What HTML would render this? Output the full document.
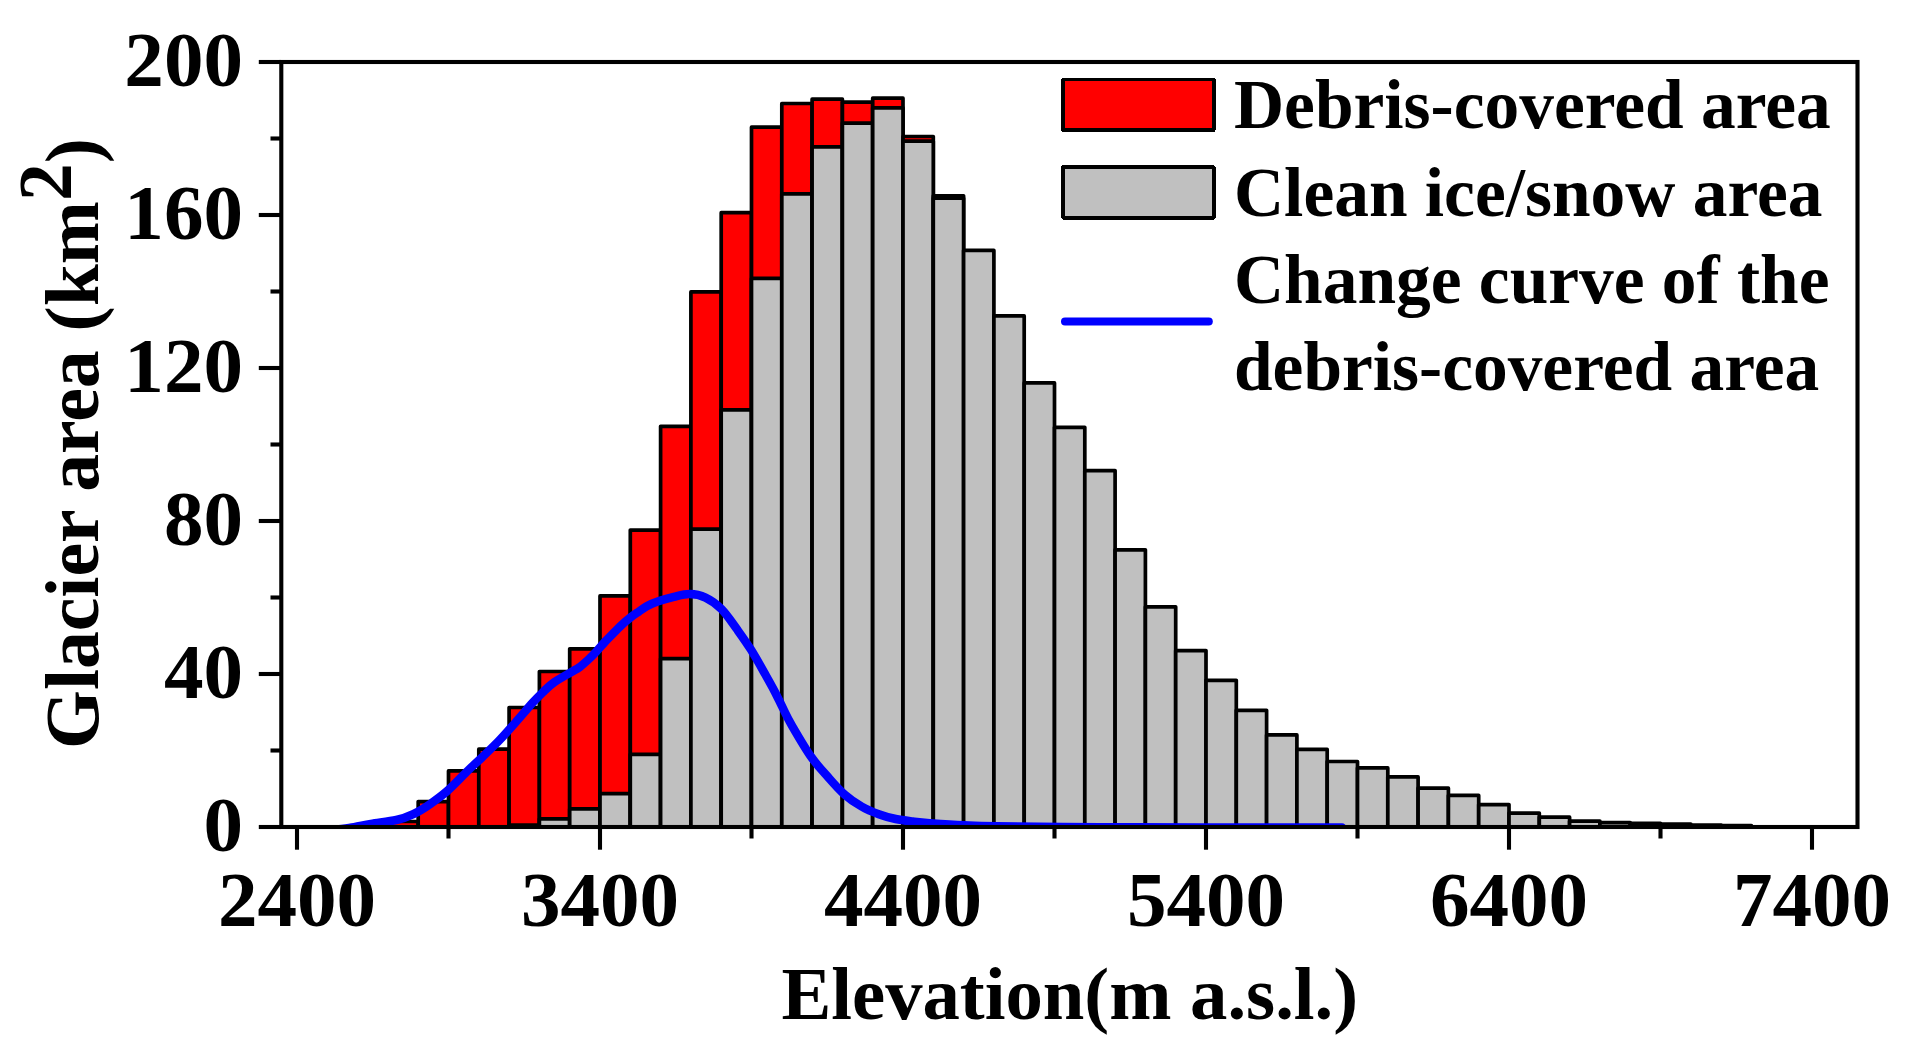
<!DOCTYPE html>
<html><head><meta charset="utf-8"><title>Glacier area by elevation</title>
<style>
html,body{margin:0;padding:0;background:#fff;}
body{width:1910px;height:1061px;overflow:hidden;}
svg{display:block;}
text{font-family:"Liberation Serif","Times New Roman",serif;font-weight:bold;fill:#000;}
.tk{font-size:79.1px;}
.lg{font-size:69.4px;}
</style></head><body>
<svg width="1910" height="1061" viewBox="0 0 1910 1061">
<rect width="1910" height="1061" fill="#fff"/>
<defs><clipPath id="pc"><rect x="281" y="62" width="1577" height="765"/></clipPath></defs>

<g stroke="#000" stroke-width="3.7" stroke-linejoin="round">
<rect x="387.9" y="821.5" width="30.3" height="5.5" fill="#ff0000"/>
<rect x="418.2" y="801.6" width="30.3" height="25.4" fill="#ff0000"/>
<rect x="448.5" y="770.9" width="30.3" height="56.1" fill="#ff0000"/>
<rect x="478.8" y="749.2" width="30.3" height="77.8" fill="#ff0000"/>
<rect x="509.1" y="707.5" width="30.3" height="119.5" fill="#ff0000"/>
<rect x="509.1" y="825.0" width="30.3" height="2.0" fill="#c0c0c0"/>
<rect x="539.4" y="671.5" width="30.3" height="155.5" fill="#ff0000"/>
<rect x="539.4" y="818.9" width="30.3" height="8.1" fill="#c0c0c0"/>
<rect x="569.7" y="648.8" width="30.3" height="178.2" fill="#ff0000"/>
<rect x="569.7" y="808.9" width="30.3" height="18.1" fill="#c0c0c0"/>
<rect x="600.0" y="595.9" width="30.3" height="231.1" fill="#ff0000"/>
<rect x="600.0" y="793.7" width="30.3" height="33.3" fill="#c0c0c0"/>
<rect x="630.3" y="530.1" width="30.3" height="296.9" fill="#ff0000"/>
<rect x="630.3" y="754.3" width="30.3" height="72.7" fill="#c0c0c0"/>
<rect x="660.6" y="426.3" width="30.3" height="400.7" fill="#ff0000"/>
<rect x="660.6" y="658.7" width="30.3" height="168.3" fill="#c0c0c0"/>
<rect x="690.9" y="291.9" width="30.3" height="535.1" fill="#ff0000"/>
<rect x="690.9" y="529.1" width="30.3" height="297.9" fill="#c0c0c0"/>
<rect x="721.2" y="212.7" width="30.3" height="614.3" fill="#ff0000"/>
<rect x="721.2" y="409.8" width="30.3" height="417.2" fill="#c0c0c0"/>
<rect x="751.5" y="127.2" width="30.3" height="699.8" fill="#ff0000"/>
<rect x="751.5" y="278.4" width="30.3" height="548.6" fill="#c0c0c0"/>
<rect x="781.8" y="103.5" width="30.3" height="723.5" fill="#ff0000"/>
<rect x="781.8" y="193.9" width="30.3" height="633.1" fill="#c0c0c0"/>
<rect x="812.1" y="99.2" width="30.3" height="727.8" fill="#ff0000"/>
<rect x="812.1" y="146.8" width="30.3" height="680.2" fill="#c0c0c0"/>
<rect x="842.4" y="102.2" width="30.3" height="724.8" fill="#ff0000"/>
<rect x="842.4" y="123.1" width="30.3" height="703.9" fill="#c0c0c0"/>
<rect x="872.7" y="98.2" width="30.3" height="728.8" fill="#ff0000"/>
<rect x="872.7" y="107.8" width="30.3" height="719.2" fill="#c0c0c0"/>
<rect x="903.0" y="136.5" width="30.3" height="690.5" fill="#ff0000"/>
<rect x="903.0" y="141.2" width="30.3" height="685.8" fill="#c0c0c0"/>
<rect x="933.3" y="195.8" width="30.3" height="631.2" fill="#ff0000"/>
<rect x="933.3" y="198.2" width="30.3" height="628.8" fill="#c0c0c0"/>
<rect x="963.6" y="250.4" width="30.3" height="576.6" fill="#c0c0c0"/>
<rect x="993.9" y="315.9" width="30.3" height="511.1" fill="#c0c0c0"/>
<rect x="1024.2" y="382.9" width="30.3" height="444.1" fill="#c0c0c0"/>
<rect x="1054.5" y="427.3" width="30.3" height="399.7" fill="#c0c0c0"/>
<rect x="1084.8" y="470.6" width="30.3" height="356.4" fill="#c0c0c0"/>
<rect x="1115.1" y="549.8" width="30.3" height="277.2" fill="#c0c0c0"/>
<rect x="1145.4" y="606.8" width="30.3" height="220.2" fill="#c0c0c0"/>
<rect x="1175.7" y="650.6" width="30.3" height="176.4" fill="#c0c0c0"/>
<rect x="1206.0" y="680.3" width="30.3" height="146.7" fill="#c0c0c0"/>
<rect x="1236.3" y="710.3" width="30.3" height="116.7" fill="#c0c0c0"/>
<rect x="1266.6" y="734.9" width="30.3" height="92.1" fill="#c0c0c0"/>
<rect x="1296.9" y="749.4" width="30.3" height="77.6" fill="#c0c0c0"/>
<rect x="1327.2" y="761.5" width="30.3" height="65.5" fill="#c0c0c0"/>
<rect x="1357.5" y="767.9" width="30.3" height="59.1" fill="#c0c0c0"/>
<rect x="1387.8" y="776.9" width="30.3" height="50.1" fill="#c0c0c0"/>
<rect x="1418.1" y="788.2" width="30.3" height="38.8" fill="#c0c0c0"/>
<rect x="1448.4" y="795.4" width="30.3" height="31.6" fill="#c0c0c0"/>
<rect x="1478.7" y="804.6" width="30.3" height="22.4" fill="#c0c0c0"/>
<rect x="1509.0" y="813.1" width="30.3" height="13.9" fill="#c0c0c0"/>
<rect x="1539.3" y="817.2" width="30.3" height="9.8" fill="#c0c0c0"/>
<rect x="1569.6" y="821.2" width="30.3" height="5.8" fill="#c0c0c0"/>
<rect x="1599.9" y="822.6" width="30.3" height="4.4" fill="#c0c0c0"/>
<rect x="1630.2" y="823.4" width="30.3" height="3.6" fill="#c0c0c0"/>
<rect x="1660.5" y="824.2" width="30.3" height="2.8" fill="#c0c0c0"/>
<rect x="1690.8" y="825.0" width="30.3" height="2.0" fill="#c0c0c0"/>
<rect x="1721.1" y="825.6" width="30.3" height="1.4" fill="#c0c0c0"/>
</g>
<path d="M338.0 829.5 C340.7 829.1 348.5 828.1 354.0 827.2 C359.5 826.3 363.8 825.1 370.9 823.9 C377.9 822.7 389.2 821.6 396.3 820.0 C403.4 818.4 407.6 816.8 413.3 814.1 C419.0 811.4 424.7 807.8 430.3 803.9 C435.9 800.0 440.9 796.6 447.2 791.0 C453.5 785.4 462.2 776.1 468.0 770.5 C473.8 764.9 476.7 762.5 481.8 757.6 C486.9 752.7 493.1 746.8 498.8 740.9 C504.5 735.0 510.1 728.6 515.7 722.2 C521.4 715.8 528.2 707.7 532.7 702.7 C537.2 697.7 539.4 695.6 542.9 692.2 C546.4 688.8 549.2 685.8 553.9 682.5 C558.6 679.2 566.6 674.8 570.9 672.3 C575.1 669.8 576.6 669.3 579.4 667.3 C582.2 665.2 585.1 662.6 587.9 660.0 C590.7 657.4 593.5 654.6 596.3 651.6 C599.1 648.6 602.0 645.0 604.8 642.0 C607.6 639.0 610.5 636.2 613.3 633.3 C616.1 630.4 619.0 627.4 621.8 624.8 C624.6 622.2 627.5 619.8 630.3 617.6 C633.1 615.4 635.9 613.6 638.7 611.7 C641.5 609.8 643.8 607.8 647.2 606.0 C650.6 604.2 654.7 602.6 659.1 601.1 C663.5 599.6 668.8 598.1 673.9 596.9 C679.0 595.7 684.4 594.0 689.7 594.1 C695.0 594.2 700.2 595.2 705.5 597.7 C710.8 600.2 716.1 603.8 721.4 609.1 C726.7 614.4 732.3 622.9 737.2 629.6 C742.1 636.4 746.3 642.2 750.9 649.6 C755.5 657.0 761.1 667.0 765.0 673.9 C768.9 680.8 771.4 685.2 774.4 690.9 C777.4 696.6 779.9 702.2 782.8 707.9 C785.6 713.5 786.8 716.7 791.5 724.8 C796.2 732.9 804.8 747.8 810.9 756.5 C817.0 765.2 822.2 770.5 827.9 776.9 C833.5 783.3 839.1 789.8 844.8 794.7 C850.4 799.7 856.1 803.4 861.8 806.6 C867.5 809.9 873.1 812.1 878.8 814.2 C884.4 816.3 890.1 817.8 895.7 819.0 C901.4 820.2 907.0 820.8 912.7 821.5 C918.4 822.2 921.2 822.6 929.7 823.2 C938.2 823.8 952.3 824.8 963.6 825.3 C974.9 825.8 974.8 826.0 997.5 826.3 C1020.2 826.6 1066.2 827.0 1100.0 827.2 C1133.8 827.4 1159.7 827.4 1200.0 827.5 C1240.3 827.6 1318.3 827.6 1342.0 827.6" fill="none" stroke="#0000ff" stroke-width="8.5" stroke-linecap="round" stroke-linejoin="round" clip-path="url(#pc)"/>
<g stroke="#000" stroke-width="4.1" fill="none">
<rect x="281.3" y="62.0" width="1576.2" height="765.0"/>
<line x1="258.8" y1="827.0" x2="281.3" y2="827.0"/>
<line x1="270.5" y1="750.5" x2="281.3" y2="750.5"/>
<line x1="258.8" y1="674.0" x2="281.3" y2="674.0"/>
<line x1="270.5" y1="597.5" x2="281.3" y2="597.5"/>
<line x1="258.8" y1="521.0" x2="281.3" y2="521.0"/>
<line x1="270.5" y1="444.5" x2="281.3" y2="444.5"/>
<line x1="258.8" y1="368.0" x2="281.3" y2="368.0"/>
<line x1="270.5" y1="291.5" x2="281.3" y2="291.5"/>
<line x1="258.8" y1="215.0" x2="281.3" y2="215.0"/>
<line x1="270.5" y1="138.5" x2="281.3" y2="138.5"/>
<line x1="258.8" y1="62.0" x2="281.3" y2="62.0"/>
<line x1="297.0" y1="827.0" x2="297.0" y2="849.7"/>
<line x1="448.5" y1="827.0" x2="448.5" y2="838.5"/>
<line x1="600.0" y1="827.0" x2="600.0" y2="849.7"/>
<line x1="751.5" y1="827.0" x2="751.5" y2="838.5"/>
<line x1="903.0" y1="827.0" x2="903.0" y2="849.7"/>
<line x1="1054.5" y1="827.0" x2="1054.5" y2="838.5"/>
<line x1="1206.0" y1="827.0" x2="1206.0" y2="849.7"/>
<line x1="1357.5" y1="827.0" x2="1357.5" y2="838.5"/>
<line x1="1509.0" y1="827.0" x2="1509.0" y2="849.7"/>
<line x1="1660.5" y1="827.0" x2="1660.5" y2="838.5"/>
<line x1="1812.0" y1="827.0" x2="1812.0" y2="849.7"/>
</g>
<text class="tk" x="243" y="850.9" text-anchor="end">0</text>
<text class="tk" x="243" y="697.9" text-anchor="end">40</text>
<text class="tk" x="243" y="544.9" text-anchor="end">80</text>
<text class="tk" x="243" y="391.9" text-anchor="end">120</text>
<text class="tk" x="243" y="238.9" text-anchor="end">160</text>
<text class="tk" x="243" y="85.9" text-anchor="end">200</text>
<text class="tk" x="297.0" y="926.2" text-anchor="middle">2400</text>
<text class="tk" x="600.0" y="926.2" text-anchor="middle">3400</text>
<text class="tk" x="903.0" y="926.2" text-anchor="middle">4400</text>
<text class="tk" x="1206.0" y="926.2" text-anchor="middle">5400</text>
<text class="tk" x="1509.0" y="926.2" text-anchor="middle">6400</text>
<text class="tk" x="1812.0" y="926.2" text-anchor="middle">7400</text>
<text x="1069.8" y="1018.6" text-anchor="middle" style="font-size:74.7px">Elevation(m a.s.l.)</text>
<text transform="translate(98 443.5) rotate(-90)" text-anchor="middle" style="font-size:75.7px">Glacier area (km<tspan dy="-27">2</tspan><tspan dy="27">)</tspan></text>
<g stroke="#000" stroke-width="3.7" stroke-linejoin="round" shape-rendering="crispEdges">
<rect x="1063.1" y="79.4" width="150.6" height="50.8" fill="#ff0000"/>
<rect x="1063.1" y="167.1" width="150.6" height="50.6" fill="#c0c0c0"/>
</g>
<line x1="1065" y1="321.5" x2="1208.8" y2="321.5" stroke="#0000ff" stroke-width="8" stroke-linecap="round"/>
<text class="lg" x="1234" y="127.9">Debris-covered area</text>
<text class="lg" x="1234" y="215.6">Clean ice/snow area</text>
<text class="lg" x="1234" y="303.1">Change curve of the</text>
<text class="lg" x="1234" y="390.4">debris-covered area</text>
</svg></body></html>
